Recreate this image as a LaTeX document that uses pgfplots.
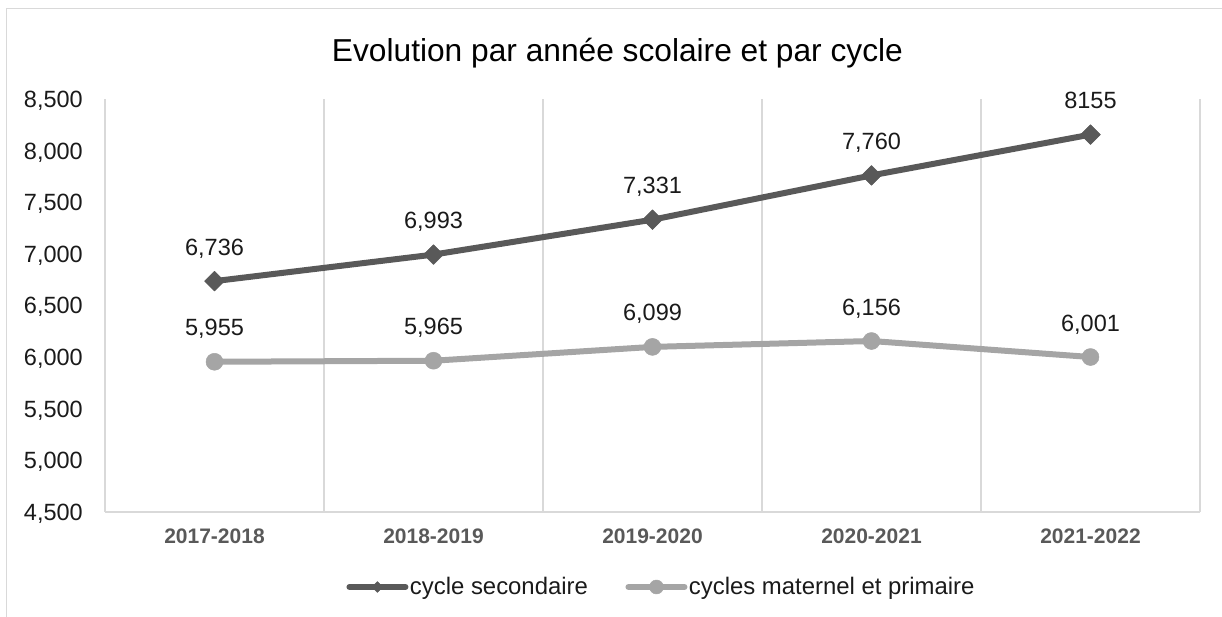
\documentclass[border=0pt]{standalone}
\usepackage{pgfplots}
\pgfplotsset{compat=1.18}
\usepackage{pgfplotstable}
\usepackage{fontspec}
\setmainfont{Liberation Sans}
\definecolor{cdark}{HTML}{595959}
\definecolor{clight}{HTML}{A5A5A5}
\definecolor{cgrid}{HTML}{D9D9D9}
\definecolor{ctext}{HTML}{1A1A1A}

\pgfplotstableread{
x y lab
0 6736 {6,736}
1 6993 {6,993}
2 7331 {7,331}
3 7760 {7,760}
4 8155 {8155}
}\tabsec
\pgfplotstableread{
x y lab
0 5955 {5,955}
1 5965 {5,965}
2 6099 {6,099}
3 6156 {6,156}
4 6001 {6,001}
}\tabmat

\begin{document}
\begin{tikzpicture}[x=1pt,y=1pt]
\path[use as bounding box] (0,0) rectangle (1222,617);
\draw[cgrid, line width=1.5pt] (6.5,0) -- (6.5,608.5) -- (1222,608.5);
\begin{axis}[
  at={(105pt,105pt)}, anchor=south west,
  scale only axis, width=1095pt, height=413pt,
  xmin=-0.5, xmax=4.5, ymin=4500, ymax=8500,
  clip=false,
  axis line style={draw=none},
  major tick length=0pt, minor tick length=0pt,
  xtick={0,1,2,3,4},
  xticklabels={2017-2018,2018-2019,2019-2020,2020-2021,2021-2022},
  minor xtick={-0.5,0.5,1.5,2.5,3.5,4.5},
  xminorgrids,
  minor x grid style={cgrid, line width=1.5pt},
  major grid style={cgrid, line width=1.5pt},
  extra y ticks={4500}, extra y tick labels={},
  extra y tick style={grid=major},
  ytick={4500,5000,5500,6000,6500,7000,7500,8000,8500},
  /pgf/number format/.cd, 1000 sep={,}, assume math mode=true, /pgfplots/.cd,
  yticklabel style={font=\fontsize{23.5}{28}\selectfont, text=ctext, anchor=base east, inner sep=0pt, xshift=-22pt, yshift=-8.4pt},
  xticklabel style={font=\fontsize{21}{25}\selectfont\bfseries, text=cdark, anchor=base, inner sep=0pt, yshift=-32pt},
  title={Evolution par année scolaire et par cycle},
  title style={at={(0.468,1)}, anchor=base, yshift=31pt, inner sep=0pt, font=\fontsize{31.7}{36}\selectfont, text=black},
  legend style={at={(0.508,-0.1816)}, anchor=center, draw=none, fill=none,
    font=\fontsize{23.9}{28}\selectfont, text=ctext,
    nodes={inner sep=1.5pt},
    /tikz/every even column/.append style={column sep=36pt}},
  legend columns=2,
  legend image code/.code={\draw[mark repeat=2,mark phase=2,#1,line cap=round] plot coordinates {(0pt,0pt) (28pt,0pt) (56pt,0pt)};},
  every node near coord/.append style={anchor=base, yshift=26pt, inner sep=0pt, text=ctext, font=\fontsize{23.5}{28}\selectfont},
]
\addplot[cdark, line width=6pt, line join=round, mark=square*, mark size=7pt,
  mark options={rotate=45, line width=0.5pt},
  nodes near coords, point meta=explicit symbolic,
  legend image post style={mark size=3.8pt}]
  table[x=x,y=y,meta=lab]{\tabsec};
\addlegendentry{cycle secondaire}
\addplot[clight, line width=6pt, line join=round, mark=*, mark size=8.5pt,
  mark options={line width=0.5pt},
  nodes near coords, point meta=explicit symbolic,
  legend image post style={mark size=7pt}]
  table[x=x,y=y,meta=lab]{\tabmat};
\addlegendentry{cycles maternel et primaire}
\end{axis}
\end{tikzpicture}
\end{document}
